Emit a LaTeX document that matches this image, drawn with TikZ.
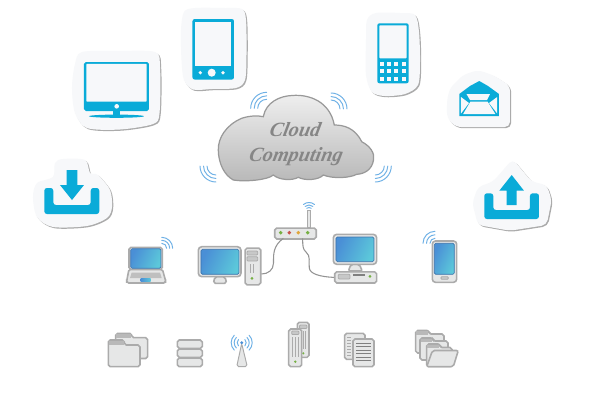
\documentclass[tikz,border=0pt]{standalone}
\usepackage{fontspec}
\setmainfont{Liberation Serif}
\definecolor{iconblue}{HTML}{0AABD8}
\definecolor{stickerfill}{HTML}{F7F8FA}
\definecolor{stickershade}{HTML}{ABABAB}
\definecolor{wifiblue}{HTML}{6FB1E6}
\definecolor{devfill}{HTML}{E6E7E7}
\definecolor{devline}{HTML}{ABABAB}
\definecolor{scrA}{HTML}{4A8FD6}
\definecolor{scrB}{HTML}{5CC8DA}
\definecolor{cloudtop}{HTML}{EFEFEF}
\definecolor{cloudbot}{HTML}{B8B8B8}
\definecolor{cloudtext}{HTML}{868686}
\definecolor{ledgreen}{HTML}{76B043}
\definecolor{ledred}{HTML}{C8504A}
\definecolor{ledyellow}{HTML}{E0A63A}
\tikzset{
  iconfill/.style={fill=iconblue,draw=none},
  paper/.style={fill=stickerfill,draw=none},
  papershade/.style={fill=stickershade,draw=none},
  wave/.style={draw=wifiblue,line width=0.55pt,line cap=round},
  dev/.style={fill=devfill,draw=devline,line width=0.9pt,rounded corners=1.1pt},
  slot/.style={fill=devfill!70!gray,draw=devline,line width=0.5pt,rounded corners=0.5pt},
  thin line/.style={draw=devline,line width=0.65pt},
  cable/.style={draw=gray!85,line width=0.6pt},
  screen/.style={left color=scrA,right color=scrB,shading angle=65,draw=scrA!80!black,line width=0.35pt,rounded corners=0.8pt},
  led/.style={circle,inner sep=0pt,minimum size=2.2pt,draw=none},
  cloudlabel/.style={text=cloudtext,font=\fontsize{11.5pt}{13pt}\selectfont\bfseries\itshape,inner sep=0pt,xslant=0.2,transform shape}
}
\newcommand{\stickerpath}[1]{%
  \fill[papershade] plot[smooth cycle,tension=0.5,shift={(1.2,1.2)}] coordinates {#1};
  \fill[paper] plot[smooth cycle,tension=0.5] coordinates {#1};}
\newcommand{\stickerpoly}[1]{%
  \path[papershade,rounded corners=3pt,shift={(1.2,1.2)}] #1 -- cycle;
  \path[paper,rounded corners=3pt] #1 -- cycle;}
\newcommand{\waves}[4]{% centre, start angle, end angle, radii
  \foreach \rr in {#4} {\draw[wave] (#1) ++(#2:\rr) arc[start angle=#2,end angle=#3,radius=\rr];}}
\begin{document}
\begin{tikzpicture}[x=0.02cm,y=-0.02cm]
\useasboundingbox (0,0) rectangle (600,400);
\fill[white] (0,0) rectangle (600,400);

% --- stickers
\stickerpath{(72,88) (75,64) (82,52) (118,51) (155,52) (160,67) (159.5,113) (153,124) (120,129.5) (87,128) (75,113)}
\stickerpath{(181,30) (184,12) (195,8) (225,8) (242,9) (246,20) (246.5,55) (245,80) (236,88) (212,89) (193,89.5) (184,80) (181.5,60)}
\stickerpath{(366,40) (367,20) (376,13) (400,13) (415,15) (419,32) (420,62) (418,85) (405,94) (385,96) (372,92) (366,75)}
\stickerpoly{(447,100) -- (450,88) -- (463,75) -- (478,70) -- (495,76) -- (510,86) -- (510,127) -- (456,127) -- (447,118)}
\stickerpath{(55,163) (63,159) (85,160) (90,173) (98,175) (110,190) (112,207) (107,218) (87,226) (53,227) (37,217) (33,197) (37,183) (53,177)}
\stickerpoly{(472.3,203) -- (478,187) -- (493,181.7) -- (512.7,159) -- (531.7,181.7) -- (546.7,185) -- (551.7,200) -- (546.7,225) -- (510,230.7) -- (478,225)}

% --- monitor icon
\path[iconfill,rounded corners=1pt] (84,62) rectangle (149,111);
\path[fill=stickerfill,rounded corners=0.5pt] (86.3,63.8) rectangle (146.7,101.7);
\fill[stickerfill] (116.7,106.3) circle (2.3);
\path[iconfill] (113,110) rectangle (120,116);
\path[iconfill] (116.5,116.2) ellipse (27.5 and 1.6);

% --- tablet phone icon
\path[iconfill,rounded corners=1.2pt] (192.5,19) rectangle (234,79.5);
\path[fill=stickerfill] (195,21.7) rectangle (231.5,66);
\fill[stickerfill] (211.7,72.7) circle (4);
\fill[stickerfill] (200.3,72.7) circle (1.8);
\fill[stickerfill] (223,72.7) circle (1.8);

% --- keypad phone icon
\path[iconfill,rounded corners=1.2pt] (377.3,23.3) rectangle (408.7,83.3);
\path[fill=stickerfill,rounded corners=0.5pt] (379.3,25.3) rectangle (406.7,58.3);
\foreach \kx in {381.7,389,396.3,403.7}
  \foreach \ky in {63.7,71.3,79}
    \fill[stickerfill] (\kx-2,\ky-2) rectangle (\kx+2,\ky+2);

% --- envelope icon
\path[iconfill] (459.3,94) -- (470,86) -- (479.3,81) -- (488,86) -- (499,94) -- (499,116) -- (459.3,116) -- cycle;
\path[fill=stickerfill] (466.5,94) -- (490,94) -- (487,100) -- (470,100) -- cycle;
\path[fill=stickerfill] (461,97) -- (469,103) -- (461,113.5) -- cycle;
\path[fill=stickerfill] (497.2,97) -- (489,103) -- (497.2,113.5) -- cycle;
\path[fill=stickerfill] (470.5,101.5) -- (487.5,101.5) -- (495.5,114.2) -- (463,114.2) -- cycle;

% --- download icon
\path[iconfill,rounded corners=1.5pt] (44.3,188) -- (53.3,188) -- (53.3,205) -- (90.7,205) -- (90.7,188) -- (99.3,188) -- (99.3,214) -- (44.3,214) -- cycle;
\path[iconfill] (66.7,170) -- (77.3,170) -- (77.3,185) -- (84,185) -- (72,200) -- (60,185) -- (66.7,185) -- cycle;

% --- upload icon
\path[iconfill,rounded corners=1.5pt] (484.3,193.3) -- (493.3,193.3) -- (493.3,210) -- (530,210) -- (530,193.3) -- (539,193.3) -- (539,219) -- (484.3,219) -- cycle;
\path[iconfill] (511.7,175) -- (524,190.7) -- (516.7,190.7) -- (516.7,205) -- (506.7,205) -- (506.7,190.7) -- (499.3,190.7) -- cycle;

% --- cloud
\path[top color=cloudtop,bottom color=cloudbot,draw=gray!80,line width=0.7pt]
  (218.3,150) .. controls (218,138) and (226,125) .. (241.7,118.3)
  .. controls (250,115.5) and (258,115.5) .. (263.3,116.7)
  .. controls (266,102) and (280,96) .. (292,95.5)
  .. controls (310,94) and (330,102) .. (334.3,125)
  .. controls (344,125) and (355,128) .. (361.7,141.7)
  .. controls (370,146) and (375,153) .. (373.5,160)
  .. controls (372,170) and (364,174) .. (356.7,174.3)
  .. controls (350,178) and (333,179) .. (323.3,175)
  .. controls (319,180) and (305,181) .. (298.3,177.3)
  .. controls (292,181) and (279,180) .. (273.3,175)
  .. controls (268,180) and (245,182) .. (233.3,180)
  .. controls (224,175) and (218.5,163) .. (218.3,150) -- cycle;
\node[cloudlabel] (cloudword) at (295.5,130) {Cloud};
\node[cloudlabel] (computingword) at (296,157) {Computing};
\foreach \r in {16,12.5,9} {
  \draw[wave] (266.7,108.3) ++(180:\r) arc[start angle=180,end angle=270,radius=\r];
  \draw[wave] (331,109) ++(-90:\r) arc[start angle=-90,end angle=0,radius=\r];
  \draw[wave] (216,166) ++(180:\r) arc[start angle=180,end angle=90,radius=\r];
  \draw[wave] (375.3,166) ++(0:\r) arc[start angle=0,end angle=90,radius=\r];
}

% --- laptop
\path[dev] (129,269) -- (162.3,269) -- (165.7,281) -- (165.7,283) -- (126.7,283) -- (126.7,281) -- cycle;
\path[fill=gray!50,draw=none] (131.7,272.5) -- (160,272.5) -- (161.7,278) -- (130,278) -- cycle;
\path[left color=scrA,right color=scrB] (140.7,278.5) rectangle (150.7,281);
\path[dev] (129,247.3) rectangle (162.3,269.5);
\path[screen] (130.7,248.7) rectangle (161,268.3);
\waves{161.7,248.3}{-90}{0}{5,8,11}

% --- desktop and tower
\path[dev] (215,276.7) -- (225,276.7) -- (226.7,283.3) -- (213.3,283.3) -- cycle;
\path[dev,rounded corners=2pt] (198.3,246.7) rectangle (241,276.7);
\path[screen] (201,249.3) rectangle (239,274.3);
\node[dev,draw,minimum width=8.9pt,minimum height=20.9pt,inner sep=0pt,anchor=north west] (tower) at (244.3,247.3) {};
\path[slot] (247,251) rectangle (257.7,255);
\path[slot] (247,256.7) rectangle (257.7,261);
\draw[thin line,line width=0.4pt] (250.3,264) -- (250.3,273.3) (253.7,264) -- (253.7,273.3);
\fill[ledgreen] (252,278.3) circle (1.5);

% --- second desktop
\path[dev] (351,264.3) -- (359.3,264.3) -- (362.3,271) -- (348.3,271) -- cycle;
\path[dev,rounded corners=2pt] (333.3,234.3) rectangle (376.7,264.3);
\path[screen] (336,237) rectangle (374,261.7);
\node[dev,draw,minimum width=23.8pt,minimum height=6.4pt,inner sep=0pt,anchor=north west] (deskbase) at (334,271) {};
\path[slot] (338.3,274.3) rectangle (350,279);
\draw[thin line,line width=0.6pt,draw=gray] (353,275) -- (365,275);
\fill[ledgreen] (370,276.3) circle (1.5);

% --- router
\draw[draw=devline,fill=devfill,line width=0.5pt] (307.3,227.3) rectangle (310.3,210);
\node[dev,draw,minimum width=23.6pt,minimum height=6.2pt,inner sep=0pt,anchor=north west] (router) at (274,227.3) {};
\node[led,fill=ledgreen] (l1) at (280.7,232.7) {};
\node[led,fill=ledred] (l2) at (289.3,232.7) {};
\node[led,fill=ledyellow] (l3) at (298.3,232.7) {};
\node[led,fill=ledgreen] (l4) at (307.7,232.7) {};
\waves{309,211}{-130}{-50}{3.5,6,8.5}

% --- cables
\coordinate (portA) at (283.3,238.3);
\coordinate (portB) at (302.7,238.3);
\draw[cable] (tower.east |- 0,274) .. controls (268,274) and (273.5,270) .. (273.5,263)
  .. controls (273.5,254) and (273,246) .. (portA);
\draw[cable] (portB) .. controls (302.7,246) and (302.7,249) .. (306,252)
  .. controls (311,256) and (308.5,262) .. (309.3,268)
  .. controls (310,274) and (320,276.7) .. (deskbase.west);

% --- smartphone
\path[dev,rounded corners=1.8pt] (432.3,241) rectangle (456.7,282.3);
\path[screen] (434.3,243.3) rectangle (454.3,274.3);
\path[slot] (441,276.7) rectangle (448.3,279.3);
\waves{435,243.3}{-180}{-90}{5,8.5,12}

% --- bottom: folders
\path[dev] (115.7,360) -- (115.7,333.3) -- (131.7,333.3) -- (131.7,337.7) -- (147.7,337.7) -- (147.7,358.5) -- (140,358.5) -- cycle;
\path[fill=gray!55,draw=none] (116.5,334.2) rectangle (131,338);
\path[dev] (108.3,366.7) -- (108.3,340) -- (124.3,340) -- (124.3,345) -- (140,345) -- (140,366.7) -- cycle;
\path[fill=gray!55,draw=none] (109.1,340.8) rectangle (123.8,345);

% --- bottom: server stack
\path[dev] (177.3,340) rectangle (202.3,348.3);
\path[dev] (177.3,349) rectangle (202.3,357.3);
\path[dev] (177.3,358) rectangle (202.3,366.7);

% --- bottom: antenna
\path[dev,line width=0.55pt] (241.7,343.5) -- (247.3,366.7) -- (236.7,366.7) -- cycle;
\fill[scrA] (241.7,342.7) circle (1.6);
\foreach \r in {4.5,7.5,10.5} {
  \draw[wave] (241.7,342.7) ++(-45:\r) arc[start angle=-45,end angle=45,radius=\r];
  \draw[wave] (241.7,342.7) ++(135:\r) arc[start angle=135,end angle=225,radius=\r];
}

% --- bottom: tower pair
\path[dev] (297.3,322.3) rectangle (309,357.3);
\path[slot] (299.5,325) rectangle (307,328.5);
\draw[thin line,line width=0.4pt] (301,331) -- (301,349) (303.3,331) -- (303.3,349) (305.6,331) -- (305.6,349);
\fill[ledgreen] (303.3,353.3) circle (1.2);
\path[dev] (288.7,329) rectangle (301.7,366.7);
\path[slot] (291.7,331) rectangle (299,334.5);
\draw[thin line,line width=0.4pt] (292.5,337) -- (292.5,357) (295.2,337) -- (295.2,357) (297.9,337) -- (297.9,357);
\fill[ledgreen] (295.3,361.7) circle (1.3);

% --- bottom: documents
\path[dev] (344.7,333.3) rectangle (365,359.3);
\foreach \ly in {337,340,343,346,349,352,355}
  \draw[thin line,line width=0.5pt] (347.5,\ly) -- (351,\ly);
\path[dev] (353,339) rectangle (374,366.7);
\foreach \ly in {343,346.5,350,353.5,357,360.5}
  \draw[thin line,draw=gray,line width=0.55pt] (356,\ly) -- (371,\ly);

% --- bottom: open folders
\path[dev] (415.7,353) -- (415.7,330.5) -- (429,330.5) -- (429,334) -- (444,334) -- (444,353) -- cycle;
\path[fill=gray!55,draw=none] (416.3,331.2) rectangle (428.5,334.5);
\path[dev] (420,360) -- (420,338) -- (433,338) -- (433,341) -- (448,341) -- (448,360) -- cycle;
\path[fill=gray!55,draw=none] (420.6,338.7) rectangle (432.5,341.5);
\path[dev] (426.7,366.7) -- (426.7,344) -- (440,344) -- (440,347.5) -- (452,347.5) -- (452,366.7) -- cycle;
\path[fill=gray!55,draw=none] (427.3,344.7) rectangle (439.5,348);
\path[dev] (432.5,350.5) -- (458.3,350.5) -- (453.3,366.7) -- (426.7,366.7) -- cycle;
\end{tikzpicture}
\end{document}
